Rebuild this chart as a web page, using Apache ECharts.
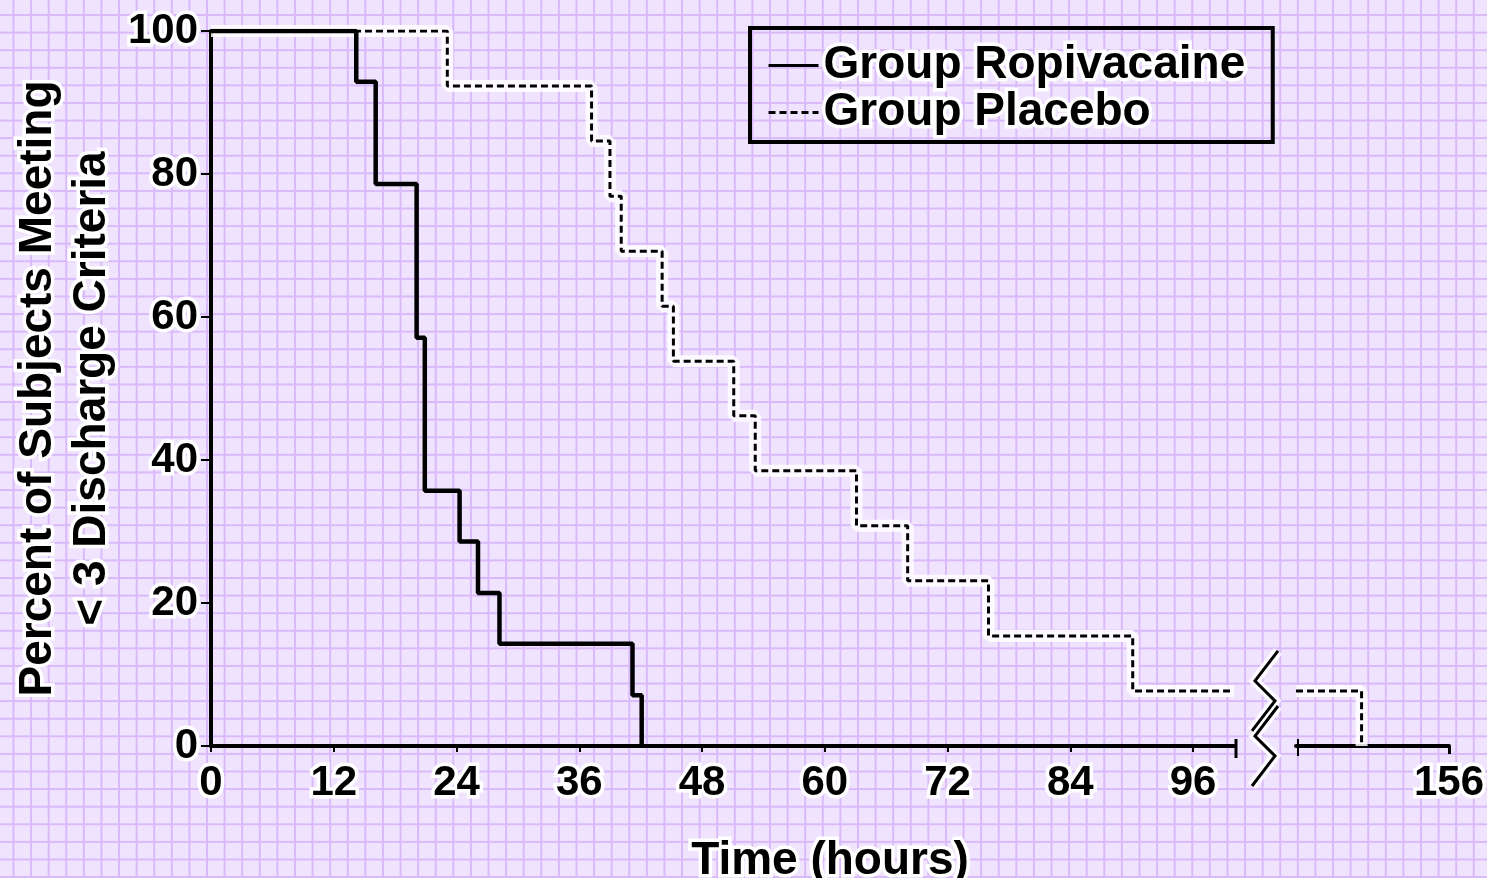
<!DOCTYPE html>
<html>
<head>
<meta charset="utf-8">
<title>Discharge criteria over time</title>
<script src="https://cdn.jsdelivr.net/npm/echarts@6/dist/echarts.min.js"></script>
<style>
  html, body { margin: 0; padding: 0; }
  body {
    width: 1487px; height: 878px; overflow: hidden;
    background-color: #f0e3fe;
    background-image:
      linear-gradient(to right, #d9b9f9 2px, transparent 2px),
      linear-gradient(to bottom, #d9b9f9 2px, transparent 2px);
    background-size: 17.6px 17.6px;
    background-position: 12.5px 14px;
  }
  #chart { width: 1487px; height: 878px; }
</style>
</head>
<body>
<div id="chart"></div>
<script>
// Kaplan–Meier style curves: hour of each drop and the percentage after it
const ropiHours = [0, 14.2, 16.1, 20.1, 20.9, 24.3, 26.1, 28.2, 41.2, 42.1];
const ropiPercent = [100, 92.9, 78.6, 57.1, 35.7, 28.6, 21.4, 14.3, 7.1, 0];

const placeboHours = [0, 23.1, 37.2, 39.0, 40.1, 44.1, 45.2, 51.1, 53.2, 63.1, 68.1, 76.0, 90.1, 100];
const placeboPercent = [100, 92.3, 84.6, 76.9, 69.2, 61.5, 53.8, 46.2, 38.5, 30.8, 23.1, 15.4, 7.7, 7.7];

// section after the axis break
const placeboLateHours = [142, 148];
const placeboLatePercent = [7.7, 0];

const xTicks = [0, 12, 24, 36, 48, 60, 72, 84, 96];
const xLateTicks = [156];
const yTicks = [0, 20, 40, 60, 80, 100];

const zip = (xs, ys) => xs.map((x, i) => [x, ys[i]]);

const FONT = '"Liberation Sans", Arial, Helvetica, sans-serif';
const haloText = { textBorderColor: '#ffffff', textBorderWidth: 7 };

const chart = echarts.init(document.getElementById('chart'), null, { renderer: 'canvas' });

const tickLabel = Object.assign({
  color: '#000', fontFamily: FONT, fontWeight: 'bold', fontSize: 42
}, haloText);

const option = {
  backgroundColor: 'transparent',
  animation: false,
  grid: [
    { left: 211, right: 253, top: 31, bottom: 132, outerBoundsMode: 'none' },
    { left: 1296, right: 38, top: 31, bottom: 132, outerBoundsMode: 'none' },
    { left: 211, right: 38, top: 31, bottom: 132, outerBoundsMode: 'none' }
  ],
  xAxis: [
    {
      gridIndex: 0, type: 'value', min: 0, max: 100,
      axisLine: { lineStyle: { color: '#000', width: 4 } },
      axisTick: { customValues: xTicks, length: 6, lineStyle: { color: '#000', width: 2 } },
      axisLabel: Object.assign({ customValues: xTicks, margin: 16 }, tickLabel),
      splitLine: { show: false }
    },
    {
      gridIndex: 1, type: 'value', min: 142, max: 156,
      axisLine: { lineStyle: { color: '#000', width: 4 } },
      axisTick: { customValues: xLateTicks, length: 8, lineStyle: { color: '#000', width: 3 } },
      axisLabel: Object.assign({ customValues: xLateTicks, margin: 16 }, tickLabel),
      splitLine: { show: false }
    },
    {
      gridIndex: 2, type: 'value', min: 0, max: 1,
      axisLine: { show: false }, axisTick: { show: false },
      axisLabel: { show: false }, splitLine: { show: false },
      name: 'Time (hours)', nameLocation: 'middle', nameGap: 92,
      nameTextStyle: Object.assign({
        color: '#000', fontFamily: FONT, fontWeight: 'bold', fontSize: 46
      }, haloText)
    }
  ],
  yAxis: [
    {
      gridIndex: 0, type: 'value', min: 0, max: 100, interval: 20,
      axisLine: { show: true, lineStyle: { color: '#000', width: 4 } },
      axisTick: { show: true, length: 10, lineStyle: { color: '#000', width: 2 } },
      axisLabel: Object.assign({ customValues: yTicks, margin: 13 }, tickLabel),
      splitLine: { show: false },
      name: 'Percent of Subjects Meeting\n< 3 Discharge Criteria',
      nameLocation: 'middle', nameRotate: 90, nameGap: 92,
      nameMoveOverlap: false,
      nameTextStyle: Object.assign({
        color: '#000', fontFamily: FONT, fontWeight: 'bold', fontSize: 46, lineHeight: 54
      }, haloText)
    },
    {
      gridIndex: 1, type: 'value', min: 0, max: 100, show: false
    },
    {
      gridIndex: 2, type: 'value', min: 0, max: 1, show: false
    }
  ],
  legend: {
    data: ['Group Ropivacaine', 'Group Placebo'],
    orient: 'vertical',
    left: 750, top: 28,
    padding: [11, 24, 3, 17],
    itemGap: -6,
    itemWidth: 50, itemHeight: 14,
    borderColor: '#000', borderWidth: 4,
    itemStyle: { opacity: 0 },
    lineStyle: { width: 3 },
    textStyle: Object.assign({
      color: '#000', fontFamily: FONT, fontWeight: 'bold', fontSize: 46, lineHeight: 42
    }, haloText)
  },
  series: [
    {
      name: 'placebo-band', type: 'line', step: 'end',
      xAxisIndex: 0, yAxisIndex: 0,
      data: zip(placeboHours, placeboPercent),
      symbol: 'none', silent: true, z: 1,
      lineStyle: { color: '#ffffff', width: 12, opacity: 0.85 }
    },
    {
      name: 'Group Placebo', type: 'line', step: 'end',
      xAxisIndex: 0, yAxisIndex: 0,
      data: zip(placeboHours, placeboPercent),
      symbol: 'none', z: 2,
      itemStyle: { color: '#000' },
      lineStyle: { color: '#000', width: 3, type: [7, 4] }
    },
    {
      name: 'Group Ropivacaine', type: 'line', step: 'end',
      xAxisIndex: 0, yAxisIndex: 0,
      data: zip(ropiHours, ropiPercent),
      symbol: 'none', z: 3,
      itemStyle: { color: '#000' },
      lineStyle: { color: '#000', width: 4.5 }
    },
    {
      name: 'placebo-band-late', type: 'line', step: 'end',
      xAxisIndex: 1, yAxisIndex: 1,
      data: zip(placeboLateHours, placeboLatePercent),
      symbol: 'none', silent: true, z: 1,
      lineStyle: { color: '#ffffff', width: 12, opacity: 0.85 }
    },
    {
      name: 'Group Placebo', type: 'line', step: 'end',
      xAxisIndex: 1, yAxisIndex: 1,
      data: zip(placeboLateHours, placeboLatePercent),
      symbol: 'none', z: 2,
      itemStyle: { color: '#000' },
      lineStyle: { color: '#000', width: 3, type: [7, 4] }
    }
  ]
};

chart.setOption(option);

// Break marks between the two time segments, placed from the axes' own scales
const aEnd = chart.convertToPixel({ xAxisIndex: 0, yAxisIndex: 0 }, [100, 0]);
const bStart = chart.convertToPixel({ xAxisIndex: 1, yAxisIndex: 1 }, [placeboLateHours[0], 0]);
const lateY = chart.convertToPixel({ xAxisIndex: 1, yAxisIndex: 1 }, [placeboLateHours[0], placeboLatePercent[0]])[1];
const midX = (aEnd[0] + bStart[0]) / 2;

function zigzag(cx, cy) {
  return [[cx + 13, cy - 40], [cx - 10, cy - 10], [cx + 10, cy + 10], [cx - 13, cy + 40]];
}

const breakMarks = [];
[lateY, aEnd[1]].forEach(function (cy) {
  breakMarks.push({
    type: 'polyline', silent: true, z: 10,
    shape: { points: zigzag(midX, cy) },
    style: { stroke: '#ffffff', lineWidth: 10, fill: null, opacity: 0.85 }
  });
  breakMarks.push({
    type: 'polyline', silent: true, z: 11,
    shape: { points: zigzag(midX, cy) },
    style: { stroke: '#000', lineWidth: 3, fill: null }
  });
});
// end caps on the two axis segments
breakMarks.push({
  type: 'line', silent: true, z: 11,
  shape: { x1: aEnd[0] + 2, y1: aEnd[1] - 7, x2: aEnd[0] + 2, y2: aEnd[1] + 12 },
  style: { stroke: '#000', lineWidth: 3 }
});
breakMarks.push({
  type: 'line', silent: true, z: 11,
  shape: { x1: bStart[0] + 2, y1: bStart[1] - 7, x2: bStart[0] + 2, y2: bStart[1] + 10 },
  style: { stroke: '#000', lineWidth: 2 }
});

chart.setOption({ graphic: breakMarks });
</script>
</body>
</html>
